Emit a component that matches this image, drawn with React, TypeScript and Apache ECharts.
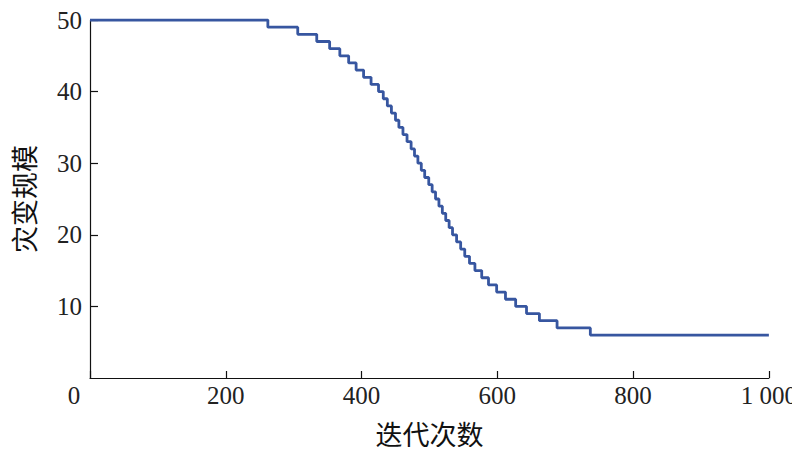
import React, { useEffect, useRef } from "react";
import * as echarts from "echarts";

// Iteration at which the catastrophe scale steps down by one
const iterations = [
  0, 262, 306, 334, 353, 368, 381, 392, 403, 414, 425, 432, 438, 444, 450, 455,
  461, 467, 473, 478, 483, 488, 493, 499, 504, 509, 514, 519, 524, 529, 534,
  540, 546, 552, 559, 567, 577, 587, 599, 612, 627, 643, 662, 688, 737, 1000,
];
const scales = [
  50, 49, 48, 47, 46, 45, 44, 43, 42, 41, 40, 39, 38, 37, 36, 35, 34, 33, 32,
  31, 30, 29, 28, 27, 26, 25, 24, 23, 22, 21, 20, 19, 18, 17, 16, 15, 14, 13,
  12, 11, 10, 9, 8, 7, 6, 6,
];
const xTicks = [0, 200, 400, 600, 800, 1000];
const xTickLabels = ["0", "200", "400", "600", "800", "1 000"];
const yTicks = [10, 20, 30, 40, 50];

const NUM_FONT = "'Liberation Serif', 'Times New Roman', serif";
const CJK_FONT = "'Liberation Serif', 'Noto Sans CJK SC', serif";

export default function App() {
  const ref = useRef<HTMLDivElement>(null);
  useEffect(() => {
    if (!ref.current) return;
    const chart = echarts.init(ref.current, undefined, { renderer: "svg" });
    const data = iterations.map((x, i) => [x, scales[i]]);
    chart.setOption({
      animation: false,
      backgroundColor: "#ffffff",
      grid: { left: 90, right: 27, top: 20, bottom: 77, containLabel: false },
      xAxis: {
        type: "value",
        min: 0,
        max: 1000,
        interval: 200,
        name: "迭代次数",
        nameLocation: "middle",
        nameGap: 44,
        nameTextStyle: { fontFamily: CJK_FONT, fontSize: 27, color: "#111" },
        axisLine: { show: true, lineStyle: { color: "#111", width: 1.2 } },
        axisTick: { show: true, inside: true, length: 7, lineStyle: { color: "#111", width: 1.2 } },
        splitLine: { show: false },
        axisLabel: {
          margin: 5,
          fontFamily: NUM_FONT,
          fontSize: 25,
          color: "#222",
          formatter: (v: number) => {
            const idx = xTicks.indexOf(v);
            const t = idx >= 0 ? xTickLabels[idx] : String(v);
            return v === 0 ? "{o|" + t + "}" : t;
          },
          rich: {
            o: { fontFamily: NUM_FONT, fontSize: 25, color: "#222", padding: [0, 32, 0, 0] },
          },
        },
      },
      yAxis: {
        type: "value",
        min: 0,
        max: 50,
        interval: 10,
        name: "灾变规模",
        nameLocation: "middle",
        nameGap: 51,
        nameTextStyle: { fontFamily: CJK_FONT, fontSize: 27, color: "#111" },
        axisLine: { show: true, lineStyle: { color: "#111", width: 1.2 } },
        axisTick: { show: true, inside: true, length: 8, lineStyle: { color: "#111", width: 1.2 } },
        splitLine: { show: false },
        axisLabel: {
          margin: 8,
          fontFamily: NUM_FONT,
          fontSize: 25,
          color: "#222",
          showMinLabel: false,
          formatter: (v: number) => (yTicks.indexOf(v) >= 0 ? String(v) : ""),
        },
      },
      series: [
        {
          type: "line",
          step: "end",
          data,
          symbol: "none",
          lineStyle: { color: "#3756a0", width: 2.8 },
          z: 3,
        },
      ],
    });
    return () => chart.dispose();
  }, []);
  return <div ref={ref} style={{ width: 800, height: 455, margin: -8 }} />;
}
